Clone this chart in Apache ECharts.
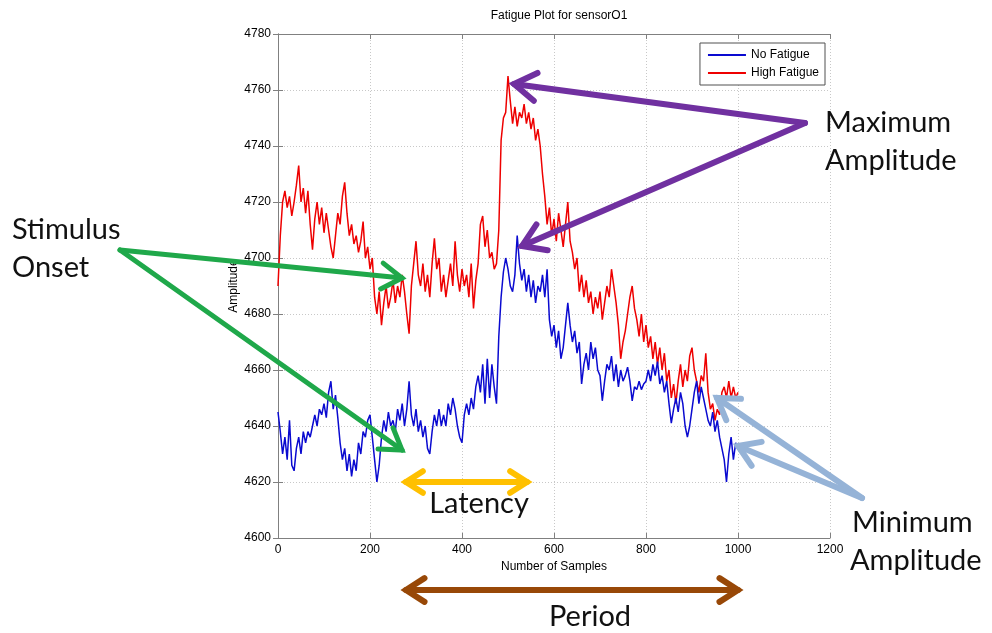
<!DOCTYPE html>
<html>
<head>
<meta charset="utf-8">
<script src="https://cdn.jsdelivr.net/npm/echarts@6/dist/echarts.min.js"></script>
<style>
html,body{margin:0;padding:0;background:#fff;}
#chart{width:992px;height:633px;}
</style>
</head>
<body>
<div id="chart"></div>
<script>
// ---- data (one value every 5 samples) ----
const sampleStep = 5;
const noFatigue = [
4645,4638,4630,4636,4628,4642,4626,4624,4632,4636,4630,4638,4634,4638,4636,4640,4644,4640,4646,4644,
4648,4643,4652,4656,4646,4651,4643,4634,4628,4632,4624,4630,4622,4628,4624,4634,4630,4638,4636,4642,
4644,4636,4628,4620,4626,4636,4642,4638,4645,4640,4642,4638,4646,4642,4648,4640,4646,4656,4644,4640,
4646,4638,4642,4636,4640,4632,4630,4638,4644,4640,4646,4640,4644,4640,4648,4644,4650,4646,4640,4636,
4634,4644,4648,4644,4650,4646,4654,4658,4652,4662,4648,4664,4650,4662,4654,4648,4672,4686,4695,4700,
4696,4690,4688,4694,4708,4698,4692,4696,4688,4694,4686,4692,4684,4690,4688,4694,4686,4696,4678,4672,
4676,4668,4674,4664,4668,4676,4684,4676,4670,4674,4666,4670,4655,4662,4666,4660,4670,4664,4668,4660,
4658,4649,4656,4662,4660,4665,4656,4662,4654,4660,4656,4658,4661,4656,4649,4654,4653,4656,4653,4655,
4656,4660,4656,4662,4658,4663,4655,4658,4652,4656,4648,4641,4646,4650,4645,4652,4648,4640,4636,4640,
4646,4652,4656,4648,4654,4650,4646,4642,4640,4645,4638,4642,4636,4632,4628,4620,4630,4636,4628,4634,
4632];
const highFatigue = [
4690,4708,4720,4724,4718,4722,4715,4720,4726,4733,4720,4725,4716,4724,4712,4703,4714,4720,4712,4718,
4709,4716,4710,4704,4700,4708,4716,4712,4722,4727,4716,4708,4712,4705,4708,4702,4706,4713,4700,4704,
4696,4700,4686,4680,4688,4676,4684,4690,4682,4686,4692,4684,4690,4686,4694,4688,4680,4673,4690,4698,
4706,4694,4690,4698,4688,4694,4686,4698,4707,4696,4700,4688,4694,4686,4692,4698,4690,4706,4694,4688,
4696,4690,4694,4686,4698,4682,4692,4698,4712,4715,4704,4710,4700,4702,4696,4698,4710,4742,4750,4752,
4765,4756,4748,4754,4747,4752,4750,4755,4748,4752,4746,4750,4742,4746,4740,4730,4722,4712,4718,4708,
4714,4706,4716,4710,4704,4712,4720,4706,4702,4696,4700,4688,4694,4686,4692,4684,4688,4680,4686,4682,
4688,4678,4684,4690,4686,4696,4690,4684,4676,4664,4670,4674,4680,4686,4690,4682,4678,4672,4680,4670,
4676,4668,4672,4664,4670,4662,4668,4660,4666,4656,4660,4650,4655,4648,4656,4662,4654,4660,4656,4665,
4668,4660,4656,4652,4658,4656,4666,4652,4646,4648,4642,4646,4644,4652,4654,4650,4656,4650,4654,4650,
4652];
const seriesNames = ['No Fatigue', 'High Fatigue'];
const xTicks = {min: 0, max: 1200, interval: 200};
const yTicks = {min: 4600, max: 4780, interval: 20};

const toPairs = arr => arr.map((v, i) => [i * sampleStep, v]);

const chart = echarts.init(document.getElementById('chart'), null, {renderer: 'canvas'});

const tickFont = {fontFamily: 'Liberation Sans', fontSize: 12, color: '#000', formatter: v => String(v)};
const gridLine = {show: true, lineStyle: {color: '#c8c8c8', type: [1, 2], width: 1}};
const axisLine = {show: true, lineStyle: {color: '#808080', width: 1}};

function arrowHead(tip, from, len, color, width) {
  const ang = Math.atan2(from[1] - tip[1], from[0] - tip[0]);
  const a1 = ang + Math.PI / 5.5, a2 = ang - Math.PI / 5.5;
  return {
    type: 'polyline', silent: true, z: 100,
    shape: {points: [[tip[0] + len * Math.cos(a1), tip[1] + len * Math.sin(a1)], tip, [tip[0] + len * Math.cos(a2), tip[1] + len * Math.sin(a2)]]},
    style: {stroke: color, lineWidth: width, fill: null, lineCap: 'round', lineJoin: 'miter'}
  };
}
function arrow(from, tip, color, width, headLen, both) {
  const out = [{
    type: 'line', silent: true, z: 100,
    shape: {x1: from[0], y1: from[1], x2: tip[0], y2: tip[1]},
    style: {stroke: color, lineWidth: width, lineCap: 'round'}
  }, arrowHead(tip, from, headLen, color, width)];
  if (both) out.push(arrowHead(from, tip, headLen, color, width));
  return out;
}
function label(text, x, y, align) {
  return {type: 'text', silent: true, z: 101, x: x, y: y,
    style: {text: text, fontFamily: 'Lato', fontSize: 29, fill: '#111', align: align || 'left', verticalAlign: 'middle'}};
}

const green = '#1fa84a', purple = '#7030a0', lightBlue = '#95b3d7', orange = '#ffc000', brown = '#984807';
const graphics = [].concat(
  [{type: 'text', silent: true, z: 50, x: 234, y: 286, rotation: Math.PI / 2,
    style: {text: 'Amplitude', fontFamily: 'Liberation Sans', fontSize: 12, fill: '#000', align: 'center', verticalAlign: 'middle'}}],
  arrow([120, 250], [402, 278], green, 5, 24),
  arrow([120, 250], [402, 450], green, 5, 24),
  arrow([805, 123], [514, 84], purple, 6, 26),
  arrow([805, 123], [522, 246], purple, 6, 26),
  arrow([862, 498], [717, 398], lightBlue, 6, 24),
  arrow([862, 498], [738, 446], lightBlue, 6, 24),
  arrow([406, 482], [527, 482], orange, 6, 20, true),
  arrow([406, 590], [738, 590], brown, 6, 22, true),
  [label('Stimulus', 12, 230), label('Onset', 12, 268),
   label('Maximum', 825, 123), label('Amplitude', 825, 161),
   label('Minimum', 852, 523), label('Amplitude', 850, 561),
   label('Latency', 479, 504, 'center'), label('Period', 590, 617, 'center')]
);

chart.setOption({
  backgroundColor: '#fff',
  animation: false,
  title: {text: 'Fatigue Plot for sensorO1', left: 554, top: 5, textAlign: 'center',
    textStyle: {fontFamily: 'Liberation Sans', fontSize: 12, fontWeight: 'normal', color: '#000'}},
  grid: {left: 278, right: 162, top: 34, bottom: 95},
  legend: {
    data: seriesNames, orient: 'vertical', right: 167, top: 43,
    itemWidth: 38, itemHeight: 2, itemGap: 6, icon: 'rect',
    padding: [6, 6, 6, 8], borderColor: '#505050', borderWidth: 1, backgroundColor: '#fff',
    textStyle: {fontFamily: 'Liberation Sans', fontSize: 12, color: '#000'}
  },
  xAxis: [{
    type: 'value', min: xTicks.min, max: xTicks.max, interval: xTicks.interval,
    name: 'Number of Samples', nameLocation: 'middle', nameGap: 23,
    nameTextStyle: {fontFamily: 'Liberation Sans', fontSize: 12, color: '#000'},
    axisLine: axisLine, axisTick: {show: true, inside: true, length: 5, lineStyle: {color: '#808080'}},
    axisLabel: Object.assign({margin: 6}, tickFont), splitLine: gridLine
  }, {
    type: 'value', position: 'top', min: xTicks.min, max: xTicks.max, interval: xTicks.interval,
    axisLine: axisLine, axisTick: {show: true, inside: true, length: 5, lineStyle: {color: '#808080'}},
    axisLabel: {show: false}, splitLine: {show: false}
  }],
  yAxis: [{
    type: 'value', min: yTicks.min, max: yTicks.max, interval: yTicks.interval,
    axisLine: axisLine, axisTick: {show: true, inside: true, length: 5, lineStyle: {color: '#808080'}},
    axisLabel: Object.assign({margin: 7}, tickFont), splitLine: gridLine
  }, {
    type: 'value', position: 'right', min: yTicks.min, max: yTicks.max, interval: yTicks.interval,
    axisLine: axisLine, axisTick: {show: true, inside: true, length: 5, lineStyle: {color: '#808080'}},
    axisLabel: {show: false}, splitLine: {show: false}
  }],
  series: [{
    name: seriesNames[0], type: 'line', data: toPairs(noFatigue), showSymbol: false, symbol: 'none',
    lineStyle: {color: '#0a0ad0', width: 1.5}, itemStyle: {color: '#0a0ad0'}, z: 3
  }, {
    name: seriesNames[1], type: 'line', data: toPairs(highFatigue), showSymbol: false, symbol: 'none',
    lineStyle: {color: '#ee0000', width: 1.5}, itemStyle: {color: '#ee0000'}, z: 2
  }],
  graphic: graphics
});
</script>
</body>
</html>
